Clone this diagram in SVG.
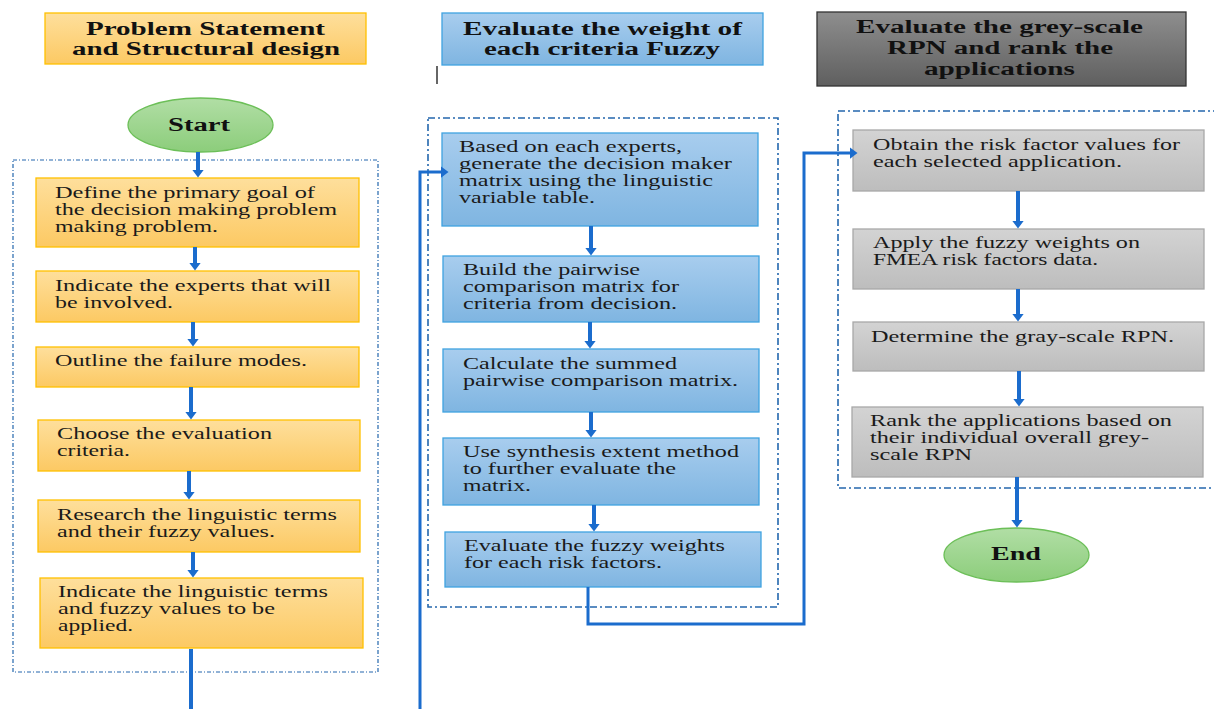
<svg xmlns="http://www.w3.org/2000/svg" width="1214" height="709" viewBox="0 0 1214 709">
<defs>
<linearGradient id="gOr" x1="0" y1="0" x2="0" y2="1"><stop offset="0" stop-color="#fedf9c"/><stop offset="1" stop-color="#fcc963"/></linearGradient>
<linearGradient id="gBl" x1="0" y1="0" x2="0" y2="1"><stop offset="0" stop-color="#a8cdee"/><stop offset="1" stop-color="#7fb5e1"/></linearGradient>
<linearGradient id="gGr" x1="0" y1="0" x2="0" y2="1"><stop offset="0" stop-color="#d3d3d3"/><stop offset="1" stop-color="#bdbdbd"/></linearGradient>
<linearGradient id="gDk" x1="0" y1="0" x2="0" y2="1"><stop offset="0" stop-color="#8e8e8e"/><stop offset="1" stop-color="#5f5f5f"/></linearGradient>
<linearGradient id="gGn" x1="0" y1="0" x2="0" y2="1"><stop offset="0" stop-color="#b1dea5"/><stop offset="1" stop-color="#8ccd7b"/></linearGradient>
<marker id="ah" viewBox="0 0 8 12" refX="0.5" refY="6" markerWidth="8" markerHeight="12" markerUnits="userSpaceOnUse" orient="auto"><path d="M0,0 L8,6 L0,12 z" fill="#1b6ccd"/></marker>
</defs>
<style>
.t{font-family:"Liberation Serif","Times New Roman",serif;font-size:16px;fill:#1a1a1a}
.h{font-family:"Liberation Serif","Times New Roman",serif;font-size:18px;font-weight:bold;fill:#111}
.or{fill:url(#gOr);stroke:#ffc000;stroke-width:1.3}
.bl{fill:url(#gBl);stroke:#3fa3e0;stroke-width:1.3}
.gr{fill:url(#gGr);stroke:#a8a8a8;stroke-width:1.3}
.dk{fill:url(#gDk);stroke:#333;stroke-width:1.3}
.gn{fill:url(#gGn);stroke:#6cbf58;stroke-width:1.3}
.grp{fill:none;stroke:#2467ad;stroke-width:1.6;stroke-dasharray:7 3 2 3}
.ar{fill:none;stroke:#1b6ccd;stroke-width:4;marker-end:url(#ah)}
.ln{fill:none;stroke:#1b6ccd;stroke-width:4}
</style>

<g id="groups">
<rect class="grp" x="13" y="160" width="365" height="512" style="stroke-width:1.2;stroke-dasharray:4 2 1 2"/>
<rect class="grp" x="428" y="118" width="350" height="489"/>
<rect class="grp" x="838" y="111" width="378" height="377"/>
</g>

<g id="header-left">
<rect class="or" x="45" y="13" width="321" height="51"/>
<text class="h" x="86" y="35" textLength="239" lengthAdjust="spacingAndGlyphs">Problem Statement</text>
<text class="h" x="72" y="55" textLength="268" lengthAdjust="spacingAndGlyphs">and Structural design</text>
</g>
<g id="header-mid">
<rect class="bl" x="442" y="13" width="321" height="52"/>
<text class="h" x="463" y="35" textLength="279" lengthAdjust="spacingAndGlyphs">Evaluate the weight of</text>
<text class="h" x="484" y="55" textLength="236" lengthAdjust="spacingAndGlyphs">each criteria Fuzzy</text>
</g>
<g id="header-right">
<rect class="dk" x="817" y="12" width="369" height="74"/>
<text class="h" x="856" y="33" textLength="287" lengthAdjust="spacingAndGlyphs">Evaluate the grey-scale</text>
<text class="h" x="887" y="54" textLength="226" lengthAdjust="spacingAndGlyphs">RPN and rank the</text>
<text class="h" x="924" y="75" textLength="151" lengthAdjust="spacingAndGlyphs">applications</text>
</g>
<g id="cursor"><line x1="437" y1="66" x2="437" y2="84" stroke="#333" stroke-width="1.5"/></g>

<g id="start">
<ellipse class="gn" cx="200.5" cy="125" rx="72.5" ry="27"/>
<text class="h" x="168" y="131" textLength="62" lengthAdjust="spacingAndGlyphs">Start</text>
</g>

<g id="l1">
<rect class="or" x="36" y="178" width="323" height="69"/>
<text class="t" x="55" y="198" textLength="260" lengthAdjust="spacingAndGlyphs">Define the primary goal of</text>
<text class="t" x="55" y="215" textLength="282" lengthAdjust="spacingAndGlyphs">the decision making problem</text>
<text class="t" x="55" y="232" textLength="163" lengthAdjust="spacingAndGlyphs">making problem.</text>
</g>
<g id="l2">
<rect class="or" x="36" y="271" width="323" height="51"/>
<text class="t" x="55" y="291" textLength="276" lengthAdjust="spacingAndGlyphs">Indicate the experts that will</text>
<text class="t" x="55" y="308" textLength="118" lengthAdjust="spacingAndGlyphs">be involved.</text>
</g>
<g id="l3">
<rect class="or" x="36" y="347" width="323" height="40"/>
<text class="t" x="55" y="366" textLength="252" lengthAdjust="spacingAndGlyphs">Outline the failure modes.</text>
</g>
<g id="l4">
<rect class="or" x="38" y="420" width="322" height="51"/>
<text class="t" x="57" y="439" textLength="215" lengthAdjust="spacingAndGlyphs">Choose the evaluation</text>
<text class="t" x="57" y="456" textLength="73" lengthAdjust="spacingAndGlyphs">criteria.</text>
</g>
<g id="l5">
<rect class="or" x="38" y="500" width="322" height="52"/>
<text class="t" x="57" y="520" textLength="280" lengthAdjust="spacingAndGlyphs">Research the linguistic terms</text>
<text class="t" x="57" y="537" textLength="218" lengthAdjust="spacingAndGlyphs">and their fuzzy values.</text>
</g>
<g id="l6">
<rect class="or" x="40" y="578" width="323" height="70"/>
<text class="t" x="58" y="597" textLength="270" lengthAdjust="spacingAndGlyphs">Indicate the linguistic terms</text>
<text class="t" x="58" y="614" textLength="217" lengthAdjust="spacingAndGlyphs">and fuzzy values to be</text>
<text class="t" x="58" y="631" textLength="75" lengthAdjust="spacingAndGlyphs">applied.</text>
</g>

<g id="m1">
<rect class="bl" x="442" y="133" width="316" height="93"/>
<text class="t" x="459" y="152" textLength="223" lengthAdjust="spacingAndGlyphs">Based on each experts,</text>
<text class="t" x="459" y="169" textLength="273" lengthAdjust="spacingAndGlyphs">generate the decision maker</text>
<text class="t" x="459" y="186" textLength="254" lengthAdjust="spacingAndGlyphs">matrix using the linguistic</text>
<text class="t" x="459" y="203" textLength="136" lengthAdjust="spacingAndGlyphs">variable table.</text>
</g>
<g id="m2">
<rect class="bl" x="443" y="256" width="316" height="66"/>
<text class="t" x="463" y="275" textLength="177" lengthAdjust="spacingAndGlyphs">Build the pairwise</text>
<text class="t" x="463" y="292" textLength="216" lengthAdjust="spacingAndGlyphs">comparison matrix for</text>
<text class="t" x="463" y="309" textLength="214" lengthAdjust="spacingAndGlyphs">criteria from decision.</text>
</g>
<g id="m3">
<rect class="bl" x="443" y="349" width="316" height="63"/>
<text class="t" x="463" y="369" textLength="214" lengthAdjust="spacingAndGlyphs">Calculate the summed</text>
<text class="t" x="463" y="386" textLength="275" lengthAdjust="spacingAndGlyphs">pairwise comparison matrix.</text>
</g>
<g id="m4">
<rect class="bl" x="443" y="438" width="316" height="67"/>
<text class="t" x="463" y="457" textLength="276" lengthAdjust="spacingAndGlyphs">Use synthesis extent method</text>
<text class="t" x="463" y="474" textLength="213" lengthAdjust="spacingAndGlyphs">to further evaluate the</text>
<text class="t" x="463" y="491" textLength="68" lengthAdjust="spacingAndGlyphs">matrix.</text>
</g>
<g id="m5">
<rect class="bl" x="445" y="532" width="316" height="55"/>
<text class="t" x="464" y="551" textLength="261" lengthAdjust="spacingAndGlyphs">Evaluate the fuzzy weights</text>
<text class="t" x="464" y="568" textLength="198" lengthAdjust="spacingAndGlyphs">for each risk factors.</text>
</g>

<g id="r1">
<rect class="gr" x="853" y="130" width="351" height="61"/>
<text class="t" x="873" y="150" textLength="307" lengthAdjust="spacingAndGlyphs">Obtain the risk factor values for</text>
<text class="t" x="873" y="167" textLength="249" lengthAdjust="spacingAndGlyphs">each selected application.</text>
</g>
<g id="r2">
<rect class="gr" x="853" y="229" width="351" height="60"/>
<text class="t" x="873" y="248" textLength="267" lengthAdjust="spacingAndGlyphs">Apply the fuzzy weights on</text>
<text class="t" x="873" y="265" textLength="225" lengthAdjust="spacingAndGlyphs">FMEA risk factors data.</text>
</g>
<g id="r3">
<rect class="gr" x="853" y="322" width="351" height="49"/>
<text class="t" x="871" y="342" textLength="303" lengthAdjust="spacingAndGlyphs">Determine the gray-scale RPN.</text>
</g>
<g id="r4">
<rect class="gr" x="852" y="407" width="351" height="70"/>
<text class="t" x="870" y="426" textLength="302" lengthAdjust="spacingAndGlyphs">Rank the applications based on</text>
<text class="t" x="870" y="443" textLength="279" lengthAdjust="spacingAndGlyphs">their individual overall grey-</text>
<text class="t" x="870" y="460" textLength="102" lengthAdjust="spacingAndGlyphs">scale RPN</text>
</g>
<g id="end">
<ellipse class="gn" cx="1016.5" cy="555" rx="72.5" ry="27"/>
<text class="h" x="991" y="560" textLength="50" lengthAdjust="spacingAndGlyphs">End</text>
</g>

<g id="connectors">
<line class="ar" x1="198" y1="152" x2="198" y2="170"/>
<line class="ar" x1="195" y1="247" x2="195" y2="263"/>
<line class="ar" x1="193" y1="322" x2="193" y2="339"/>
<line class="ar" x1="191" y1="387" x2="191" y2="412"/>
<line class="ar" x1="189" y1="471" x2="189" y2="492"/>
<line class="ar" x1="193" y1="552" x2="193" y2="570"/>
<line class="ln" x1="191" y1="649" x2="191" y2="709"/>
<polyline class="ar" points="420,709 420,172 441,172" style="stroke-width:3"/>
<line class="ar" x1="591" y1="226" x2="591" y2="248"/>
<line class="ar" x1="590" y1="322" x2="590" y2="341"/>
<line class="ar" x1="591" y1="412" x2="591" y2="430"/>
<line class="ar" x1="594" y1="505" x2="594" y2="524"/>
<polyline class="ar" points="588,587 588,624 804,624 804,153 850,153" style="stroke-width:3"/>
<line class="ar" x1="1018" y1="191" x2="1018" y2="221"/>
<line class="ar" x1="1018" y1="289" x2="1018" y2="314"/>
<line class="ar" x1="1019" y1="371" x2="1019" y2="399"/>
<line class="ar" x1="1017" y1="477" x2="1017" y2="520"/>
</g>
</svg>
